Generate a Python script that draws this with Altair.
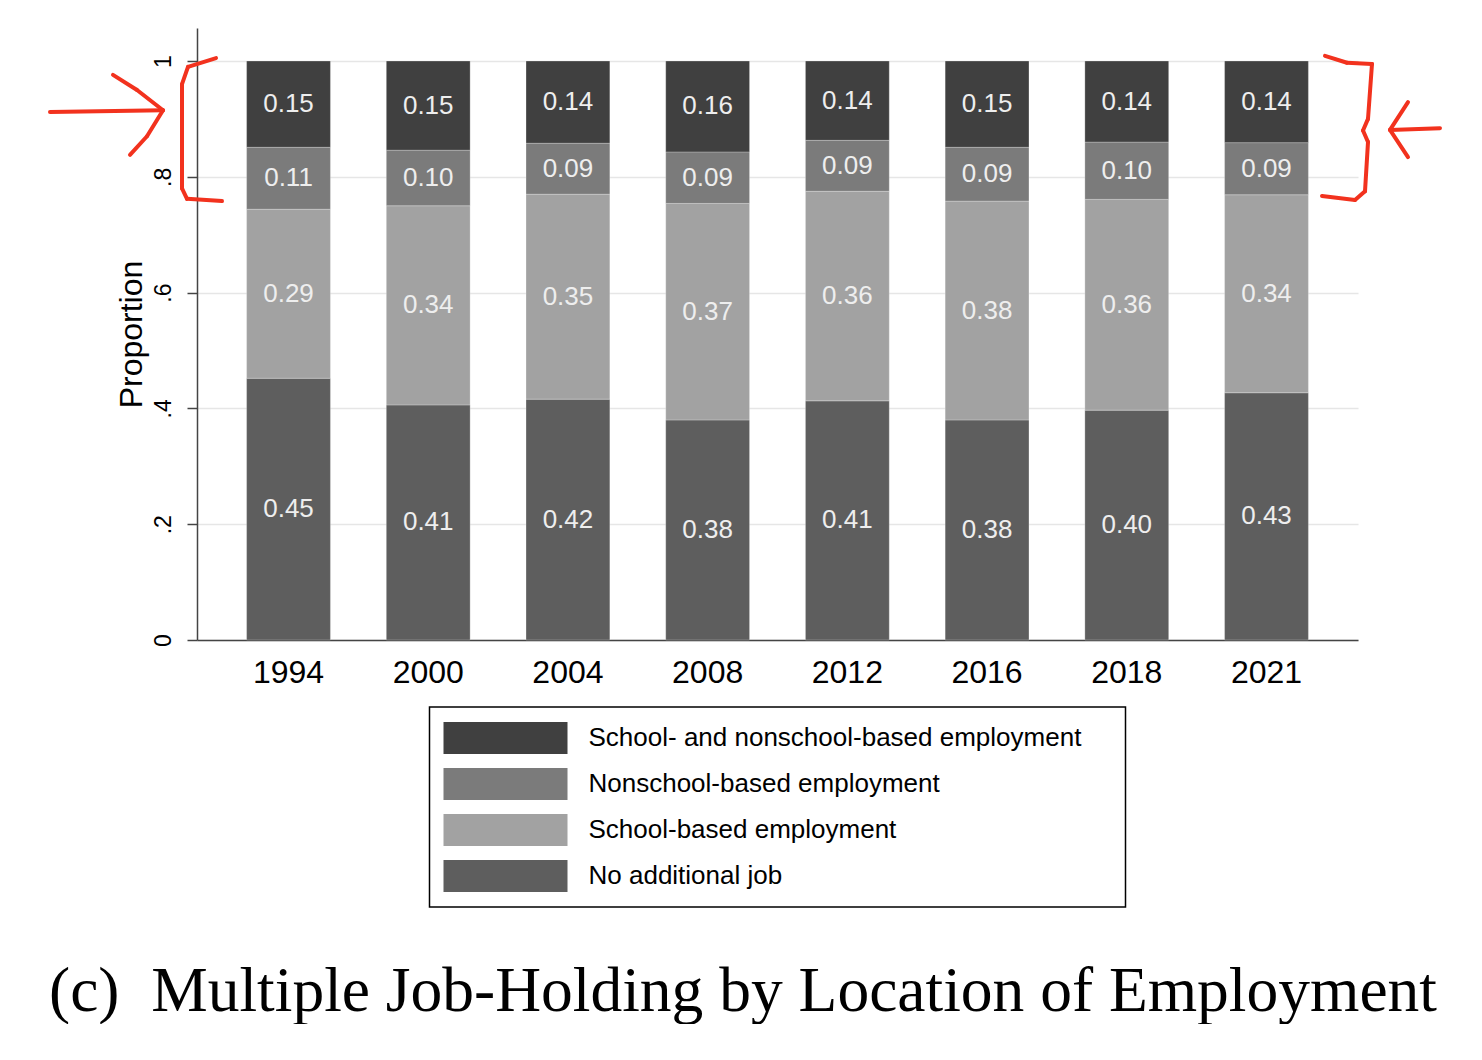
import altair as alt
import pandas as pd

years = ["1994", "2000", "2004", "2008", "2012", "2016", "2018", "2021"]
categories = [
    "No additional job",
    "School-based employment",
    "Nonschool-based employment",
    "School- and nonschool-based employment",
]
no_additional = [0.452, 0.406, 0.416, 0.380, 0.413, 0.380, 0.397, 0.427]
school_based = [0.292, 0.344, 0.354, 0.374, 0.362, 0.378, 0.364, 0.342]
nonschool_based = [0.107, 0.096, 0.088, 0.089, 0.088, 0.093, 0.099, 0.090]
both_types = [0.149, 0.154, 0.142, 0.157, 0.137, 0.149, 0.140, 0.141]
series = [no_additional, school_based, nonschool_based, both_types]
colors = ["#5e5e5e", "#a2a2a2", "#7b7b7b", "#404040"]
legend_order = [categories[3], categories[2], categories[1], categories[0]]
caption = "(c)\u00a0\u00a0Multiple Job-Holding by Location of Employment"

rows = []
for k, (cat, vals) in enumerate(zip(categories, series)):
    for yr, v in zip(years, vals):
        rows.append({"year": yr, "category": cat, "order": k, "value": v})
df = pd.DataFrame(rows)

FONT = "Liberation Sans"
color_scale = alt.Scale(domain=categories, range=colors)

x_enc = alt.X(
    "year:O", sort=years,
    scale=alt.Scale(paddingInner=0.4, paddingOuter=0.355),
    axis=alt.Axis(title=None, labelAngle=0, labelFontSize=32, labelFont=FONT,
                  labelColor="black", labelPadding=17, ticks=False,
                  domainColor="#444444", domainWidth=1.5, grid=False),
)
y_axis = alt.Axis(
    title="Proportion", titleFont=FONT, titleFontSize=32, titleFontWeight="normal",
    titleColor="black", titlePadding=4,
    values=[0, 0.2, 0.4, 0.6, 0.8, 1],
    labelExpr="datum.value == 0 ? '0' : datum.value == 1 ? '1' : slice(format(datum.value, '.1f'), 1)",
    labelAngle=270, labelAlign="center", labelBaseline="bottom",
    labelFont=FONT, labelFontSize=23, labelColor="black", labelPadding=12,
    tickSize=10, tickWidth=1.5, tickColor="#444444",
    domainColor="#444444", domainWidth=1.5,
    grid=True, gridColor="#e6e6e6", gridWidth=1.5,
)
y_scale = alt.Scale(domain=[0, 1.057], nice=False, zero=True)

base = alt.Chart(df).transform_stack(
    stack="value", groupby=["year"], as_=["y0", "y1"],
    sort=[alt.SortField("order", order="ascending")],
).transform_calculate(mid="(datum.y0 + datum.y1) / 2")

bars = base.mark_bar(stroke="#ffffff", strokeOpacity=0.25, strokeWidth=1).encode(
    x=x_enc,
    y=alt.Y("y0:Q", scale=y_scale, axis=y_axis),
    y2="y1:Q",
    color=alt.Color("category:N", scale=color_scale, legend=None),
)
labels = base.mark_text(color="#eeeeee", fontSize=26, font=FONT, baseline="middle").encode(
    x=x_enc,
    y=alt.Y("mid:Q", scale=y_scale, axis=y_axis),
    text=alt.Text("value:Q", format=".2f"),
)

# hand-drawn red annotation strokes (bracket + arrow on each side)
red_paths = [
    [(19, 1.005), (-9, 0.99), (-15, 0.96), (-15, 0.78), (-10, 0.762), (25, 0.758)],
    [(-147, 0.912), (-34, 0.915)],
    [(-84, 0.976), (-60, 0.95), (-34, 0.915)],
    [(-67, 0.838), (-50, 0.87), (-34, 0.915)],
    [(1128, 1.009), (1150, 0.997), (1175, 0.995), (1171, 0.90), (1166, 0.88),
     (1171, 0.86), (1168, 0.775), (1158, 0.76), (1125, 0.767)],
    [(1243, 0.884), (1193, 0.881)],
    [(1211, 0.929), (1193, 0.881)],
    [(1193, 0.881), (1211, 0.834)],
]
one = pd.DataFrame({"k": [0]})
annots = []
for path in red_paths:
    for (xa, ya), (xb, yb) in zip(path[:-1], path[1:]):
        annots.append(
            alt.Chart(one).mark_rule(color="#f2321e", strokeWidth=4, strokeCap="round").encode(
                x=alt.value(xa), x2=alt.value(xb),
                y=alt.datum(ya, scale=y_scale, axis=y_axis), y2=alt.datum(yb),
            )
        )

main = alt.layer(bars, labels, *annots).properties(
    width=1161, height=612, view=alt.ViewBackground(stroke="transparent")
)

leg_df = pd.DataFrame({"category": legend_order})
ly = alt.Y("category:N", sort=legend_order,
           scale=alt.Scale(paddingInner=0.3, paddingOuter=0.324), axis=None)
swatch = alt.Chart(leg_df).mark_rect().encode(
    y=ly, x=alt.value(14), x2=alt.value(138),
    color=alt.Color("category:N", scale=color_scale, legend=None),
)
ltext = alt.Chart(leg_df).mark_text(align="left", baseline="middle", fontSize=26,
                                    font=FONT, color="black").encode(
    y=ly, x=alt.value(159), text="category:N",
)
legend_chart = alt.layer(swatch, ltext).properties(
    width=696, height=200, view=alt.ViewBackground(stroke="black", strokeWidth=1.5)
)

chart = alt.vconcat(main, legend_chart, spacing=67, center=True, bounds="flush").properties(
    title=alt.TitleParams(text=caption, orient="bottom", anchor="middle",
                          font="Liberation Serif", fontSize=63.5, fontWeight="normal",
                          color="black", offset=53, dx=-2),
    padding={"left": 39, "top": 19, "right": 0, "bottom": 0},
).configure(background="white")

chart.save("out.html", embed_options={"renderer": "svg", "actions": False})
